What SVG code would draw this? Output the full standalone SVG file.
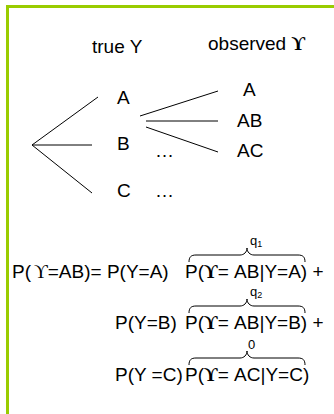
<svg xmlns="http://www.w3.org/2000/svg" width="334" height="414" viewBox="0 0 334 414">
<style>
.t{font-family:"Liberation Sans",Arial,sans-serif;font-size:19px;fill:#000}
.e{font-family:"Liberation Sans",Arial,sans-serif;font-size:19px;fill:#000}
.s{font-family:"Liberation Sans",Arial,sans-serif;font-size:13px;fill:#000}
.u{font-family:"Liberation Serif","DejaVu Serif",serif;font-weight:bold}
.ut{font-family:"Liberation Serif","DejaVu Serif",serif}
.ln{stroke:#000;stroke-width:1;fill:none}
.br{stroke:#000;stroke-width:1;fill:none}
</style>
<rect x="0" y="0" width="334" height="414" fill="#fff"/>
<rect x="6" y="5" width="328" height="3" fill="#99cc00"/>
<rect x="6" y="5" width="3" height="409" fill="#99cc00"/>
<g id="header">
<text class="t" x="92" y="53">true Y</text>
<text class="t" x="208" y="50">observed <tspan class="u">ϒ</tspan></text>
</g>
<g id="node-A"><text class="t" x="117" y="104">A</text></g>
<g id="node-B"><text class="t" x="117" y="150">B</text><text class="t" x="155" y="157">…</text></g>
<g id="node-C"><text class="t" x="117" y="197">C</text><text class="t" x="155" y="197">…</text></g>
<g id="node-oA"><text class="t" x="243" y="96">A</text></g>
<g id="node-oAB"><text class="t" x="237" y="127">AB</text></g>
<g id="node-oAC"><text class="t" x="237" y="157">AC</text></g>
<g id="connectors">
<line class="ln" x1="32" y1="145" x2="98" y2="97"/>
<line class="ln" x1="32" y1="145" x2="92" y2="145"/>
<line class="ln" x1="32" y1="145" x2="92" y2="193"/>
<line class="ln" x1="140" y1="116" x2="218" y2="91"/>
<line class="ln" x1="146" y1="121" x2="218" y2="121"/>
<line class="ln" x1="146" y1="127" x2="218" y2="152"/>
</g>
<g id="equation">
<text class="e" x="12" y="278">P(<tspan class="ut" dx="3">ϒ</tspan>=AB)= P(Y=A) <tspan x="185">P(<tspan class="u">ϒ</tspan>= AB|Y=A) +</tspan></text>
<text class="e" x="115" y="329">P(Y=B) <tspan x="185">P(<tspan class="u">ϒ</tspan>= AB|Y=B) +</tspan></text>
<text class="e" x="115" y="381">P(Y =C)<tspan x="185">P(<tspan class="u">ϒ</tspan>= AC|Y=C)</tspan></text>
<path class="br" d="M189,262 C189,257 191,255 196,255 L240,255 C244,255 247,252 247,248 C247,252 250,255 254,255 L298,255 C303,255 305,257 305,262"/>
<path class="br" d="M189,313 C189,308 191,306 196,306 L240,306 C244,306 247,303 247,299 C247,303 250,306 254,306 L298,306 C303,306 305,308 305,313"/>
<path class="br" d="M189,365 C189,360 191,358 196,358 L240,358 C244,358 247,355 247,351 C247,355 250,358 254,358 L298,358 C303,358 305,360 305,365"/>
<text class="s" x="250" y="245">q<tspan font-size="9" dy="2">1</tspan></text>
<text class="s" x="250" y="296">q<tspan font-size="9" dy="2">2</tspan></text>
<text class="s" x="248" y="349">0</text>
</g>
</svg>
